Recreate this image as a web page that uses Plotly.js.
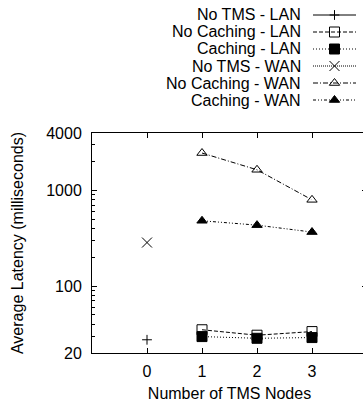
<!DOCTYPE html>
<html>
<head>
<meta charset="utf-8">
<script src="https://cdn.plot.ly/plotly-3.0.1.min.js"></script>
<style>
html, body { margin: 0; padding: 0; overflow: hidden; background: #fff; }
#chart { width: 370px; height: 407px; }
</style>
</head>
<body>
<div id="chart"></div>
<script>
// ---- data ----
const seriesNames = ["No TMS - LAN", "No Caching - LAN", "Caching - LAN",
                     "No TMS - WAN", "No Caching - WAN", "Caching - WAN"];
const baselineNodes = [0];
const tmsNodes = [1, 2, 3];
const noTmsLan = [27.5];
const noCachingLan = [35, 30.7, 33.5];
const cachingLan = [29.7, 28.5, 29];
const noTmsWan = [286];
const noCachingWan = [2470, 1650, 800];
const cachingWan = [483, 435, 368];
const xTickVals = [0, 1, 2, 3];
const xTickText = ["0", "1", "2", "3"];
const yTickVals = [20, 100, 1000, 4000];
const yTickText = ["20", "100", "1000", "4000"];
const yMinorVals = [30, 40, 50, 60, 70, 80, 90, 200, 300, 400, 500, 600, 700, 800, 900, 2000, 3000];

// ---- styles ----
const FONT = "Liberation Sans, Arial, Helvetica, sans-serif";
const styles = [
  {dash: "solid", symbol: "cross-thin-open", size: 7},
  {dash: "4px,2px", symbol: "square-open", size: 10},
  {dash: "1px,2px", symbol: "square", size: 10},
  {dash: "1px,1px", symbol: "x-thin-open", size: 10},
  {dash: "5px,2px,1px,2px", symbol: "triangle-up-open", size: 9},
  {dash: "3px,2px,1px,2px,1px,2px", symbol: "triangle-up", size: 9}
];
const seriesX = [baselineNodes, tmsNodes, tmsNodes, baselineNodes, tmsNodes, tmsNodes];
const seriesY = [noTmsLan, noCachingLan, cachingLan, noTmsWan, noCachingWan, cachingWan];

const traces = [];
seriesNames.forEach((name, i) => {
  const s = styles[i];
  traces.push({
    type: "scatter", mode: "lines+markers", name: name,
    x: seriesX[i], y: seriesY[i], showlegend: false, cliponaxis: false,
    line: {color: "#000", width: 1, dash: s.dash},
    marker: {symbol: s.symbol, size: s.size, color: "#000", line: {color: "#000", width: 1}}
  });
});
// key (legend) samples drawn on a separate hidden axis pair, text on the left like gnuplot
seriesNames.forEach((name, i) => {
  const s = styles[i];
  traces.push({type: "scatter", mode: "lines", xaxis: "x2", yaxis: "y2",
    x: [0, 1], y: [i, i], showlegend: false, hoverinfo: "skip", cliponaxis: false,
    line: {color: "#000", width: 1, dash: s.dash}});
  traces.push({type: "scatter", mode: "markers", xaxis: "x2", yaxis: "y2",
    x: [0.5], y: [i], showlegend: false, hoverinfo: "skip", cliponaxis: false,
    marker: {symbol: s.symbol, size: s.size, color: "#000", line: {color: "#000", width: 1}}});
});

const W = 370, H = 407, ML = 92, MR = 3, MT = 5, MB = 54;
const plotH = H - MT - MB, plotW = W - ML - MR;
const pyFrac = (py) => (H - MB - py) / plotH;
const pxFrac = (px) => (px - ML) / plotW;

const annotations = seriesNames.map((name, i) => ({
  xref: "paper", yref: "y2", x: pxFrac(303), y: i, xanchor: "right", yanchor: "middle",
  showarrow: false, text: name, font: {family: FONT, size: 16, color: "#000"}
}));

const layout = {
  width: W, height: H, margin: {l: ML, r: MR, t: MT, b: MB, pad: 0},
  paper_bgcolor: "#fff", plot_bgcolor: "#fff",
  font: {family: FONT, size: 16, color: "#000"}, showlegend: false,
  xaxis: {range: [-1, 4], tickvals: xTickVals, ticktext: xTickText,
    ticks: "inside", ticklen: 5, tickwidth: 1, tickcolor: "#000", ticklabelstandoff: 4,
    showline: true, linecolor: "#000", linewidth: 1, mirror: "allticks",
    showgrid: false, zeroline: false, tickfont: {family: FONT, size: 16, color: "#000"},
    title: {text: "Number of TMS Nodes", standoff: 8, font: {family: FONT, size: 16, color: "#000"}}},
  yaxis: {type: "log", domain: [0, pyFrac(133)], range: [Math.log10(20), Math.log10(4000)],
    tickvals: yTickVals, ticktext: yTickText,
    ticks: "inside", ticklen: 5, tickwidth: 1, tickcolor: "#000", ticklabelstandoff: 6,
    minor: {tickvals: yMinorVals, ticks: "inside", ticklen: 3, tickwidth: 1, tickcolor: "#000", showgrid: false},
    showline: true, linecolor: "#000", linewidth: 1, mirror: "allticks",
    showgrid: false, zeroline: false, tickfont: {family: FONT, size: 16, color: "#000"},
    title: {text: "Average Latency (milliseconds)", standoff: 18, font: {family: FONT, size: 16, color: "#000"}}},
  xaxis2: {domain: [pxFrac(313), pxFrac(356)], range: [0, 1], anchor: "y2", visible: false, fixedrange: true},
  yaxis2: {domain: [pyFrac(108.5), pyFrac(6.5)], range: [5.5, -0.5], anchor: "x2", visible: false, fixedrange: true},
  annotations: annotations
};

Plotly.newPlot("chart", traces, layout, {staticPlot: true, displayModeBar: false});
</script>
</body>
</html>
